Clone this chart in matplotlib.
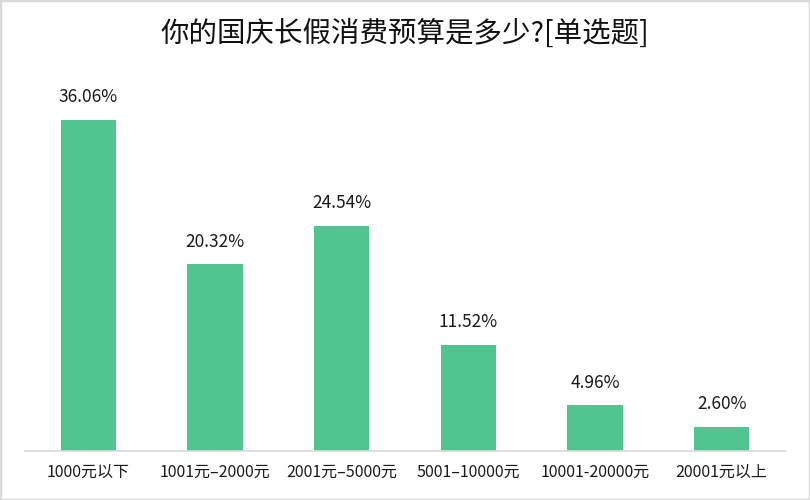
import matplotlib
matplotlib.use("Agg")
import matplotlib.pyplot as plt
from matplotlib.patches import Rectangle

plt.rcParams["font.family"] = ["Noto Sans CJK SC", "DejaVu Sans"]

title = "你的国庆长假消费预算是多少?[单选题]"
categories = ["1000元以下", "1001元–2000元", "2001元–5000元",
              "5001–10000元", "10001-20000元", "20001元以上"]
values = [36.06, 20.32, 24.54, 11.52, 4.96, 2.60]
bar_color = "#52C48F"

fig = plt.figure(figsize=(8.1, 5.0), dpi=100)
ax = fig.add_axes([25 / 810, 49 / 500, 760 / 810, 391 / 500])

x = list(range(len(categories)))
ax.bar(x, values, width=0.435, color=bar_color, zorder=2)
for xi, v in zip(x, values):
    ax.annotate(f"{v:.2f}%", (xi, v), xytext=(0, 10), textcoords="offset points",
                ha="center", va="bottom", fontsize=12.5, color="#1a1a1a")

ax.set_xlim(-0.5, len(categories) - 0.5)
ax.set_ylim(0, 391 / 9.18)
ax.set_xticks(x)
ax.set_xticklabels(categories, fontsize=11.5, color="#1a1a1a")
ax.tick_params(axis="x", length=0, pad=9)
ax.set_yticks([])
for side in ["top", "left", "right"]:
    ax.spines[side].set_visible(False)
ax.spines["bottom"].set_color("#d9d9d9")
ax.spines["bottom"].set_linewidth(1.2)

fig.text(0.5, 0.932, title, ha="center", va="center", fontsize=20.5, color="#111111")

fig.patches.append(Rectangle((0, 0), 1, 1, transform=fig.transFigure, fill=False,
                             edgecolor="#d9d9d9", linewidth=2.5))

fig.savefig("out.png", dpi=100)
